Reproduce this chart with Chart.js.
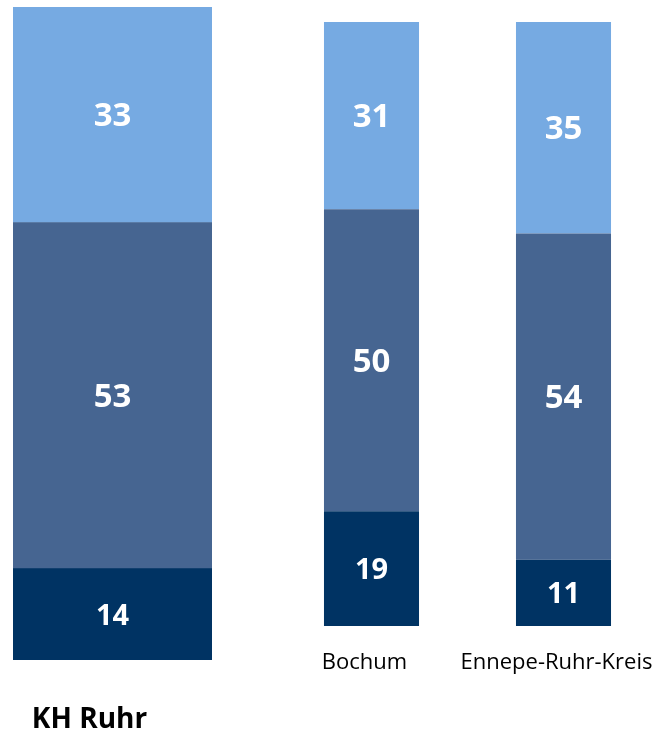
<!DOCTYPE html>
<html>
<head>
<meta charset="utf-8">
<script src="https://cdn.jsdelivr.net/npm/chart.js@4"></script>
<style>
  body { margin: 0; background: #fff; overflow: hidden; }
  #wrap { position: relative; width: 660px; height: 734px; overflow: hidden; }
  canvas { position: absolute; top: 0; }
  #ruhrChart { left: 0; }
  #cityChart { left: 240px; }
</style>
</head>
<body>
<div id="wrap">
  <canvas id="ruhrChart" width="230" height="734"></canvas>
  <canvas id="cityChart" width="440" height="734"></canvas>
</div>
<script>
// data
var ruhrLabels = ['KH Ruhr'];
var ruhrLow = [14];
var ruhrMid = [53];
var ruhrHigh = [33];

var cityLabels = ['Bochum', 'Ennepe-Ruhr-Kreis'];
var cityLow = [19, 11];
var cityMid = [50, 54];
var cityHigh = [31, 35];

var darkBlue = '#003363';
var midBlue = '#466591';
var lightBlue = '#76aae2';

// white numbers in the middle of each segment
var barLabels = {
    id: 'barLabels',
    afterDatasetsDraw: function(chart) {
        var ctx = chart.ctx;
        chart.data.datasets.forEach(function(ds, i) {
            chart.getDatasetMeta(i).data.forEach(function(bar, j) {
                var p = bar.getProps(['x', 'y', 'base'], true);
                ctx.save();
                ctx.fillStyle = '#fff';
                ctx.font = 'bold ' + (i === 0 ? 29 : 33) + 'px "Open Sans"';
                ctx.textAlign = 'center';
                ctx.textBaseline = 'middle';
                ctx.fillText(ds.data[j], p.x, (p.y + p.base) / 2 + 2);
                ctx.restore();
            });
        });
    }
};

function makeDatasets(low, mid, high, barPct) {
    return [
        { label: 'low', data: low, backgroundColor: darkBlue, barPercentage: barPct, categoryPercentage: 1 },
        { label: 'mid', data: mid, backgroundColor: midBlue, barPercentage: barPct, categoryPercentage: 1 },
        { label: 'high', data: high, backgroundColor: lightBlue, barPercentage: barPct, categoryPercentage: 1 }
    ];
}

function makeOptions(padding, tickFont, tickLen, labelOffset) {
    return {
        responsive: false,
        animation: false,
        layout: { padding: padding },
        plugins: { legend: { display: false }, tooltip: { enabled: false } },
        scales: {
            x: {
                stacked: true,
                grid: { display: false, drawTicks: true, tickLength: tickLen },
                border: { display: false },
                ticks: {
                    color: '#000',
                    font: tickFont,
                    padding: 0,
                    maxRotation: 0,
                    autoSkip: false,
                    labelOffset: labelOffset
                }
            },
            y: { stacked: true, display: false, min: 0, max: 100 }
        }
    };
}

new Chart(document.getElementById('ruhrChart'), {
    type: 'bar',
    data: { labels: ruhrLabels, datasets: makeDatasets(ruhrLow, ruhrMid, ruhrHigh, 1) },
    options: makeOptions({ left: 13, right: 18, top: 7, bottom: 0 },
        { family: 'Open Sans', size: 28, weight: 'bold', lineHeight: 1 }, 46, -23),
    plugins: [barLabels]
});

new Chart(document.getElementById('cityChart'), {
    type: 'bar',
    data: { labels: cityLabels, datasets: makeDatasets(cityLow, cityMid, cityHigh, 0.495) },
    options: makeOptions({ left: 35.5, right: 20.5, top: 22, bottom: 58 },
        { family: 'Open Sans', size: 22, lineHeight: 1.2 }, 23.5, -7),
    plugins: [barLabels]
});
</script>
</body>
</html>
